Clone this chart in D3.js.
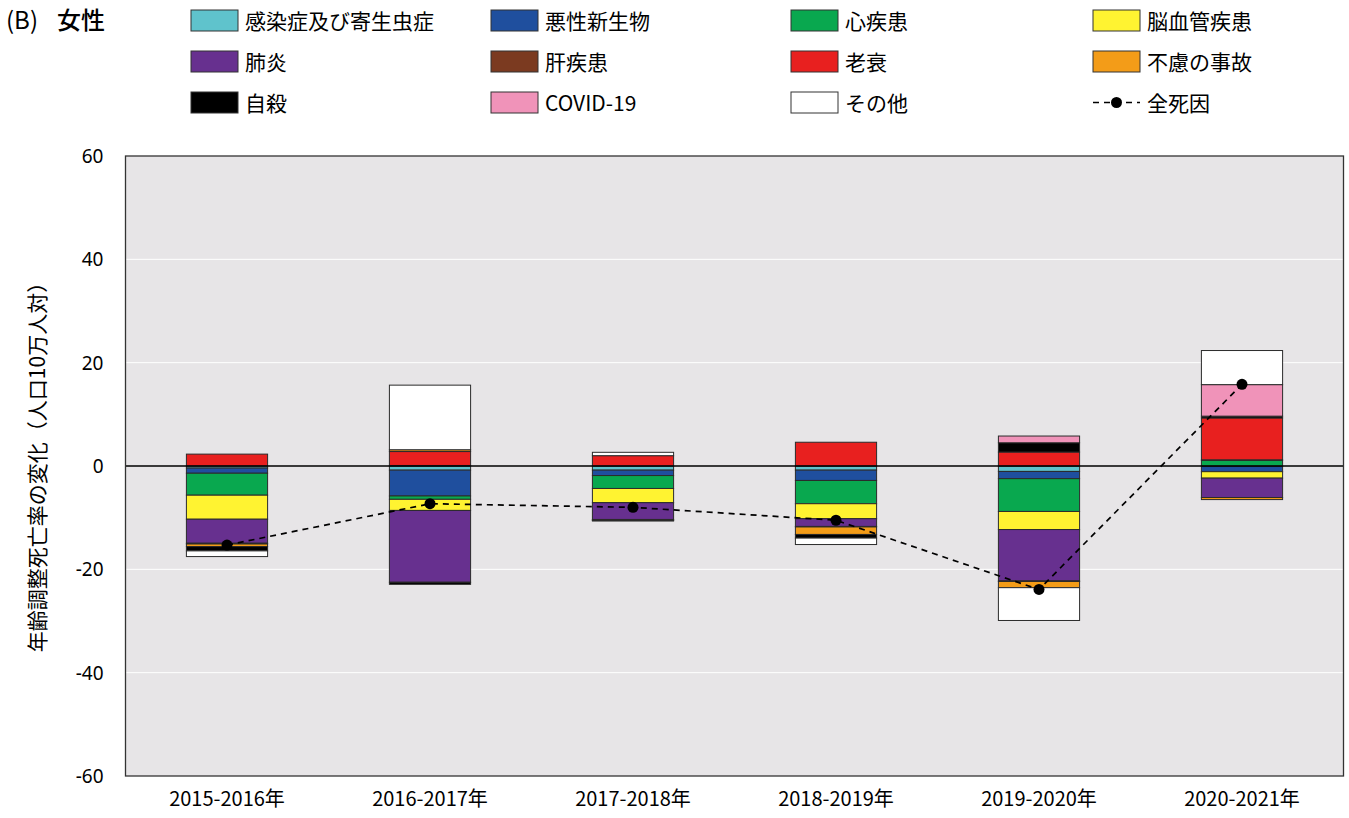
<!DOCTYPE html>
<html>
<head>
<meta charset="utf-8">
<script src="https://cdn.jsdelivr.net/npm/d3@7/dist/d3.min.js"></script>
<style>
  html, body { margin: 0; padding: 0; background: #fff; }
  svg { display: block; }
  text { font-family: "Noto Sans CJK JP", "Noto Sans", sans-serif; fill: #000; }
</style>
</head>
<body>
<svg id="chart" width="1349" height="818"></svg>
<script>
// Change in age-adjusted mortality rate, women, by cause (per 100,000)
const categories = ["2015-2016年", "2016-2017年", "2017-2018年", "2018-2019年", "2019-2020年", "2020-2021年"];

const causes = ["感染症及び寄生虫症", "悪性新生物", "心疾患", "脳血管疾患", "肺炎", "肝疾患",
                "老衰", "不慮の事故", "自殺", "COVID-19", "その他"];

const infection  = [-0.4, -0.8, -0.8, -0.8, -1.05, -0.1];
const neoplasm   = [-1.0, -5.0, -1.05, -2.0, -1.4, -1.0];
const heart      = [-4.25, -0.65, -2.5, -4.5, -6.35, 1.1];
const stroke     = [-4.65, -2.15, -2.75, -2.9, -3.5, -1.25];
const pneumonia  = [-4.65, -13.9, -3.25, -1.5, -9.95, -3.75];
const liver      = [-0.15, 0.1, -0.1, -0.1, -0.1, 0.1];
const senility   = [2.3, 2.7, 2.0, 4.6, 2.7, 8.1];
const accident   = [-0.5, 0.35, -0.1, -1.45, -1.2, -0.4];
const suicide    = [-0.83, -0.4, -0.1, -0.7, 1.8, 0.35];
const covid      = [0, 0, 0, 0, 1.3, 6.1];
const other      = [-1.1, 12.5, 0.65, -1.25, -6.35, 6.6];
const allCauses  = [-15.3, -7.3, -8.0, -10.5, -23.9, 15.8];

const yTicks = [60, 40, 20, 0, -20, -40, -60];

const seriesValues = [infection, neoplasm, heart, stroke, pneumonia, liver,
                      senility, accident, suicide, covid, other];
const colors = ["#5fc3cc", "#1f4f9e", "#09a84f", "#fff331", "#67308f", "#7b3a20",
                "#e8201f", "#f39c18", "#000000", "#f093b9", "#ffffff"];

const svg = d3.select("#chart");
const plot = { left: 125.5, right: 1343.5, top: 156, bottom: 776 };

const x = d3.scaleBand().domain(categories).range([plot.left, plot.right]).paddingInner(0.6).paddingOuter(0.3);
const y = d3.scaleLinear().domain([-60, 60]).range([plot.bottom, plot.top]);

// plot background
svg.append("rect")
  .attr("x", plot.left).attr("y", plot.top)
  .attr("width", plot.right - plot.left).attr("height", plot.bottom - plot.top)
  .attr("fill", "#e7e5e7");

// horizontal gridlines
svg.append("g")
  .selectAll("line")
  .data(yTicks.filter(t => t !== 60 && t !== -60 && t !== 0))
  .join("line")
  .attr("x1", plot.left).attr("x2", plot.right)
  .attr("y1", d => y(d)).attr("y2", d => y(d))
  .attr("stroke", "#ffffff").attr("stroke-width", 1);

// stacked segments: positives upward, negatives downward, in cause order
const segments = [];
categories.forEach((cat, i) => {
  let pos = 0, neg = 0;
  seriesValues.forEach((vals, s) => {
    const v = vals[i];
    if (v === 0) return;
    if (v > 0) { segments.push({ cat, s, y0: pos, y1: pos + v }); pos += v; }
    else { segments.push({ cat, s, y0: neg + v, y1: neg }); neg += v; }
  });
});

svg.append("g")
  .selectAll("rect")
  .data(segments)
  .join("rect")
  .attr("x", d => x(d.cat))
  .attr("width", x.bandwidth())
  .attr("y", d => y(d.y1))
  .attr("height", d => y(d.y0) - y(d.y1))
  .attr("fill", d => colors[d.s])
  .attr("stroke", "#2b2b2b")
  .attr("stroke-width", 1);

// zero line
svg.append("line")
  .attr("x1", plot.left).attr("x2", plot.right)
  .attr("y1", y(0)).attr("y2", y(0))
  .attr("stroke", "#000").attr("stroke-width", 1.5);

// plot frame
svg.append("rect")
  .attr("x", plot.left).attr("y", plot.top)
  .attr("width", plot.right - plot.left).attr("height", plot.bottom - plot.top)
  .attr("fill", "none").attr("stroke", "#333").attr("stroke-width", 1.3);

// all-cause line with markers
const cx = d => x(d) + x.bandwidth() / 2;
svg.append("path")
  .datum(allCauses)
  .attr("d", d3.line().x((d, i) => cx(categories[i])).y(d => y(d)))
  .attr("fill", "none").attr("stroke", "#000")
  .attr("stroke-width", 1.7).attr("stroke-dasharray", "6,5");

svg.append("g")
  .selectAll("circle")
  .data(allCauses)
  .join("circle")
  .attr("cx", (d, i) => cx(categories[i]))
  .attr("cy", d => y(d))
  .attr("r", 5.5)
  .attr("fill", "#000");

// y axis labels (plain hyphen for negatives)
const yAxis = d3.axisLeft(y).tickValues(yTicks).tickFormat(d => String(d)).tickSize(0).tickPadding(22);
const gy = svg.append("g").attr("transform", `translate(${plot.left},0)`).call(yAxis);
gy.select(".domain").remove();
gy.selectAll("text")
  .style("font-family", "'Noto Sans', sans-serif")
  .style("font-size", "19px")
  .attr("dy", "0.35em");

// x axis labels
const xAxis = d3.axisBottom(x).tickSize(0).tickPadding(16);
const gx = svg.append("g").attr("transform", `translate(0,${plot.bottom})`).call(xAxis);
gx.select(".domain").remove();
gx.selectAll("text")
  .style("font-family", "'Noto Sans CJK JP', sans-serif")
  .style("font-size", "20px");

// y axis title
svg.append("text")
  .attr("transform", `translate(45,${(plot.top + plot.bottom) / 2 - 4}) rotate(-90)`)
  .attr("text-anchor", "middle")
  .style("font-size", "21px")
  .text("年齢調整死亡率の変化（人口10万人対）");

// panel title
svg.append("text")
  .attr("x", 6).attr("y", 29)
  .style("font-size", "24px")
  .text("(B)");
svg.append("text")
  .attr("x", 57).attr("y", 29)
  .style("font-size", "24px")
  .style("font-weight", 500)
  .text("女性");

// legend
const legendCols = [191, 491, 791, 1093];
const legendRows = [10, 51, 92];
const legendItems = causes.map((name, s) => ({ name, s })).concat([{ name: "全死因", s: -1 }]);

const lg = svg.append("g")
  .selectAll("g")
  .data(legendItems)
  .join("g")
  .attr("transform", (d, i) => `translate(${legendCols[i % 4]},${legendRows[Math.floor(i / 4)]})`);

lg.filter(d => d.s >= 0).append("rect")
  .attr("width", 47).attr("height", 21)
  .attr("fill", d => colors[d.s])
  .attr("stroke", "#333").attr("stroke-width", 1);

const lineItem = lg.filter(d => d.s < 0);
lineItem.append("line")
  .attr("x1", 0).attr("x2", 47).attr("y1", 10.5).attr("y2", 10.5)
  .attr("stroke", "#000").attr("stroke-width", 1.7).attr("stroke-dasharray", "6,5");
lineItem.append("circle")
  .attr("cx", 23.5).attr("cy", 10.5).attr("r", 5.5).attr("fill", "#000");

lg.append("text")
  .attr("x", 54).attr("y", 18.5)
  .style("font-size", "21px")
  .text(d => d.name);
</script>
</body>
</html>
